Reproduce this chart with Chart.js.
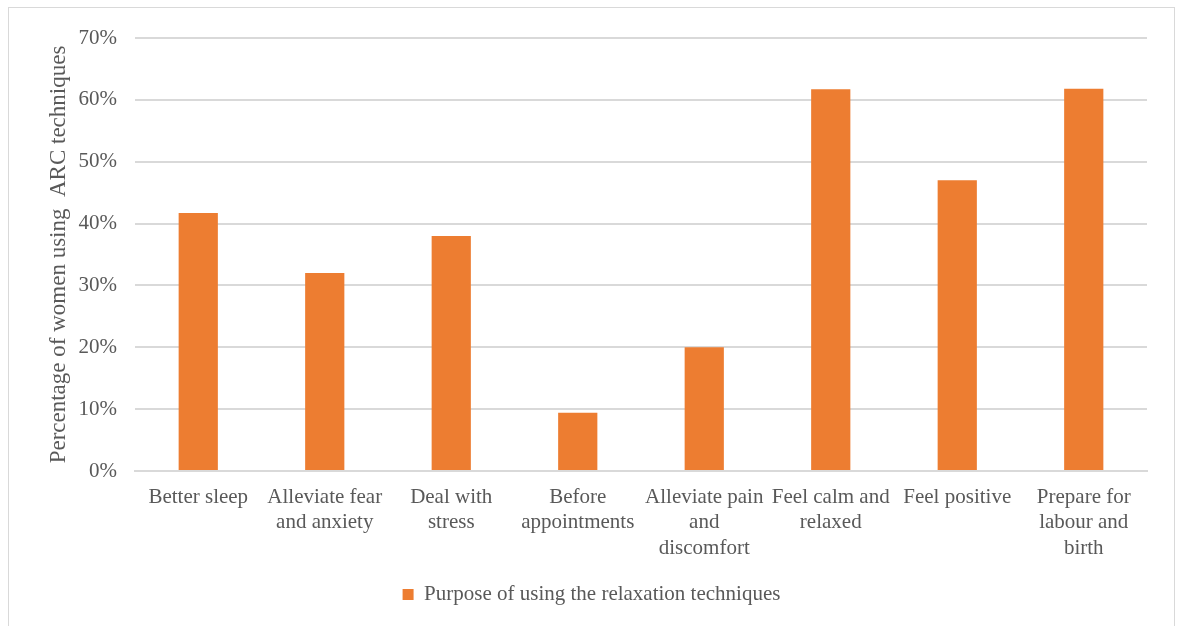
<!DOCTYPE html>
<html>
<head>
<meta charset="utf-8">
<script src="https://cdn.jsdelivr.net/npm/chart.js@4/dist/chart.umd.min.js"></script>
<style>
  html, body { margin: 0; padding: 0; background: #ffffff; }
  #frame {
    position: absolute; left: 8px; top: 7px; width: 1167px; height: 625px;
    border: 1px solid #d9d9d9; box-sizing: border-box;
  }
  #wrap { position: absolute; left: 0; top: 0; width: 1178px; height: 626px; }
</style>
</head>
<body>
<div id="frame"></div>
<div id="wrap"><canvas id="chart" width="1178" height="626"></canvas></div>
<script>
// Purposes for which women used the relaxation techniques
const categories = [
  "Better sleep",
  ["Alleviate fear", "and anxiety"],
  ["Deal with", "stress"],
  ["Before", "appointments"],
  ["Alleviate pain", "and", "discomfort"],
  ["Feel calm and", "relaxed"],
  "Feel positive",
  ["Prepare for", "labour and", "birth"]
];
const percentages = [41.7, 32.0, 38.0, 9.4, 20.0, 61.7, 47.0, 61.8];
const seriesName = "Purpose of using the relaxation techniques";
const yTitle = "Percentage of women using  ARC techniques";
const yTicks = [0, 10, 20, 30, 40, 50, 60, 70];

const serif = "'Liberation Serif', 'Times New Roman', serif";
const textColor = "#595959";
const gridColor = "#d9d9d9";
const barColor = "#ED7D31";

new Chart(document.getElementById("chart"), {
  type: "bar",
  data: {
    labels: categories,
    datasets: [{
      label: seriesName,
      data: percentages,
      backgroundColor: barColor,
      borderWidth: 0,
      categoryPercentage: 1.0,
      barPercentage: 0.31
    }]
  },
  options: {
    responsive: false,
    animation: false,
    layout: { padding: { top: 38, right: 31, bottom: 11, left: 36 } },
    plugins: {
      legend: {
        position: "bottom",
        labels: {
          font: { family: serif, size: 21 },
          color: textColor,
          boxWidth: 11,
          boxHeight: 11,
          padding: 12
        }
      },
      tooltip: { enabled: false }
    },
    scales: {
      x: {
        grid: { display: false, drawTicks: false },
        border: { display: true, color: gridColor, width: 2 },
        ticks: {
          font: { family: serif, size: 21, lineHeight: 1.2 },
          color: textColor,
          maxRotation: 0,
          autoSkip: false,
          padding: 14
        },
        afterFit(scale) { scale.height = 101; }
      },
      y: {
        min: 0,
        max: 70,
        afterBuildTicks(scale) { scale.ticks = yTicks.map(v => ({ value: v })); },
        grid: { color: gridColor, lineWidth: 2, drawTicks: false },
        border: { display: false },
        ticks: {
          font: { family: serif, size: 21 },
          color: textColor,
          padding: 18,
          callback: v => v + "%"
        },
        title: {
          display: true,
          text: yTitle,
          font: { family: serif, size: 23 },
          color: textColor,
          padding: { top: 9, bottom: 4 }
        },
        afterFit(scale) { scale.width = 99; }
      }
    }
  }
});
</script>
</body>
</html>
